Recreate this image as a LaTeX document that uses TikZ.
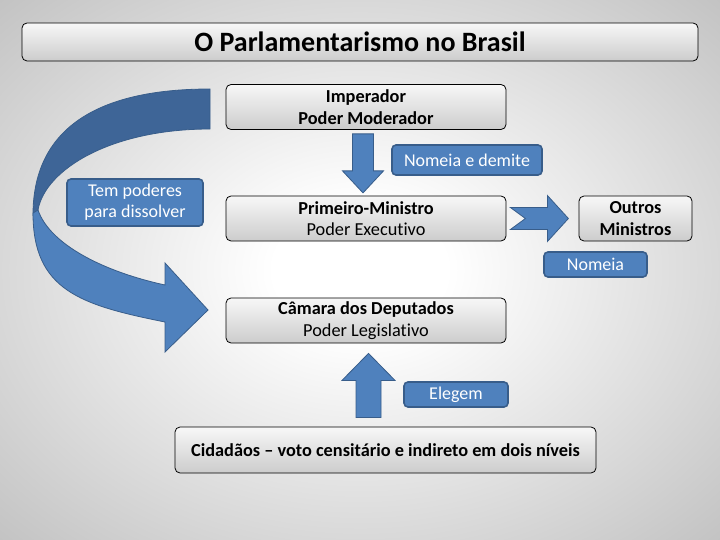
\documentclass[tikz,border=0pt]{standalone}
\usepackage{fontspec}
\setmainfont{Carlito}[Ligatures=NoCommon]
\usepackage{tikz}
\usetikzlibrary{calc}
\definecolor{panelblue}{RGB}{79,129,189}
\definecolor{paneledge}{RGB}{56,93,138}
\definecolor{backblue}{RGB}{62,101,151}
\pgfdeclareradialshading{slidebg}{\pgfpoint{0bp}{0bp}}{color(0bp)=(white); color(6bp)=(white); color(71bp)=(black!52)}
\tikzset{
    power box/.style={draw=black, line width=0.8pt, rounded corners=5pt, top color=black!3, bottom color=black!20, align=center, text=black, font=\fontsize{18.3}{21.5}\selectfont, minimum width=280pt, minimum height=45pt, inner sep=0pt},
    title box/.style={power box, minimum width=676pt, minimum height=38pt, font=\fontsize{28}{32}\selectfont\bfseries},
    tag/.style={draw=paneledge, line width=1.6pt, fill=panelblue, rounded corners=4pt, text=white, align=center, font=\fontsize{18}{21}\selectfont, inner sep=0pt},
    block arrow/.style={draw=paneledge, line width=0.8pt, fill=panelblue, line join=miter},
    back arrow/.style={draw=paneledge, line width=0.8pt, fill=backblue}
}

\begin{document}
\begin{tikzpicture}[x=1pt, y=-1pt]
    % Slide background
    \useasboundingbox (0,0) rectangle (720,540);
    \shade[shading=slidebg] (0,0) rectangle (720,540);

    % Title
    \node[title box] (title) at (360,42) {O Parlamentarismo no Brasil};

    % Curved arrow - back part, then front part with head
    \draw[back arrow] (210,89) .. controls (95,89) and (33,130) .. (33,215)
        -- (38,210) .. controls (45,170) and (110,129) .. (210,129) -- cycle;
    \draw[block arrow] (38,210) .. controls (50,245) and (105,272) .. (165,285)
        -- (165,263) -- (208,310) -- (165,352) -- (165,322)
        .. controls (80,305) and (33,290) .. (33,213) -- cycle;

    % Powers
    \node[power box] (imp) at (366,107) {\textbf{Imperador}\\\textbf{Poder Moderador}};
    \node[power box] (pm) at (366,218.5) {\textbf{Primeiro-Ministro}\\Poder Executivo};
    \node[power box, minimum width=113pt] (out) at (635.5,218.5) {\textbf{Outros}\\\textbf{Ministros}};
    \node[power box] (cam) at (366,320.5) {\textbf{Câmara dos Deputados}\\Poder Legislativo};
    \node[power box, minimum width=421pt, minimum height=46pt] (cid) at (385.5,450) {\textbf{Cidadãos – voto censitário e indireto em dois níveis}};

    % Labels on the arrows
    \node[tag, minimum width=136pt, minimum height=47pt] (diss) at (135,202.5) {Tem poderes\\para dissolver};
    \node[tag, minimum width=150pt, minimum height=30pt] (nomdem) at (467,160) {Nomeia e demite};
    \node[tag, minimum width=103pt, minimum height=25pt] (nom) at (595.5,264.5) {Nomeia};
    \node[tag, minimum width=104pt, minimum height=25pt] (eleg) at (456,394.5) {Elegem};

    % Imperador -> Primeiro-Ministro
    \draw[block arrow] ($(imp.south)+(-13.5,4)$) -- ++(21,0) -- ++(0,37) -- ++(10,0)
        -- ++(-20.5,22) -- ++(-20.5,-22) -- ++(10,0) -- cycle;

    % Primeiro-Ministro -> Outros Ministros
    \draw[block arrow] ($(pm.east)+(4,-11)$) -- ++(37,0) -- ++(0,-12) -- ++(21,23)
        -- ++(-21,23) -- ++(0,-12) -- ++(-37,0) -- ++(15,-11) -- cycle;

    % Cidadaos -> Camara
    \draw[block arrow] ($(cam.south)+(2.5,10)$) -- ++(26.5,27) -- ++(-14,0) -- ++(0,37)
        -- ++(-25,0) -- ++(0,-37) -- ++(-14,0) -- cycle;
\end{tikzpicture}
\end{document}
